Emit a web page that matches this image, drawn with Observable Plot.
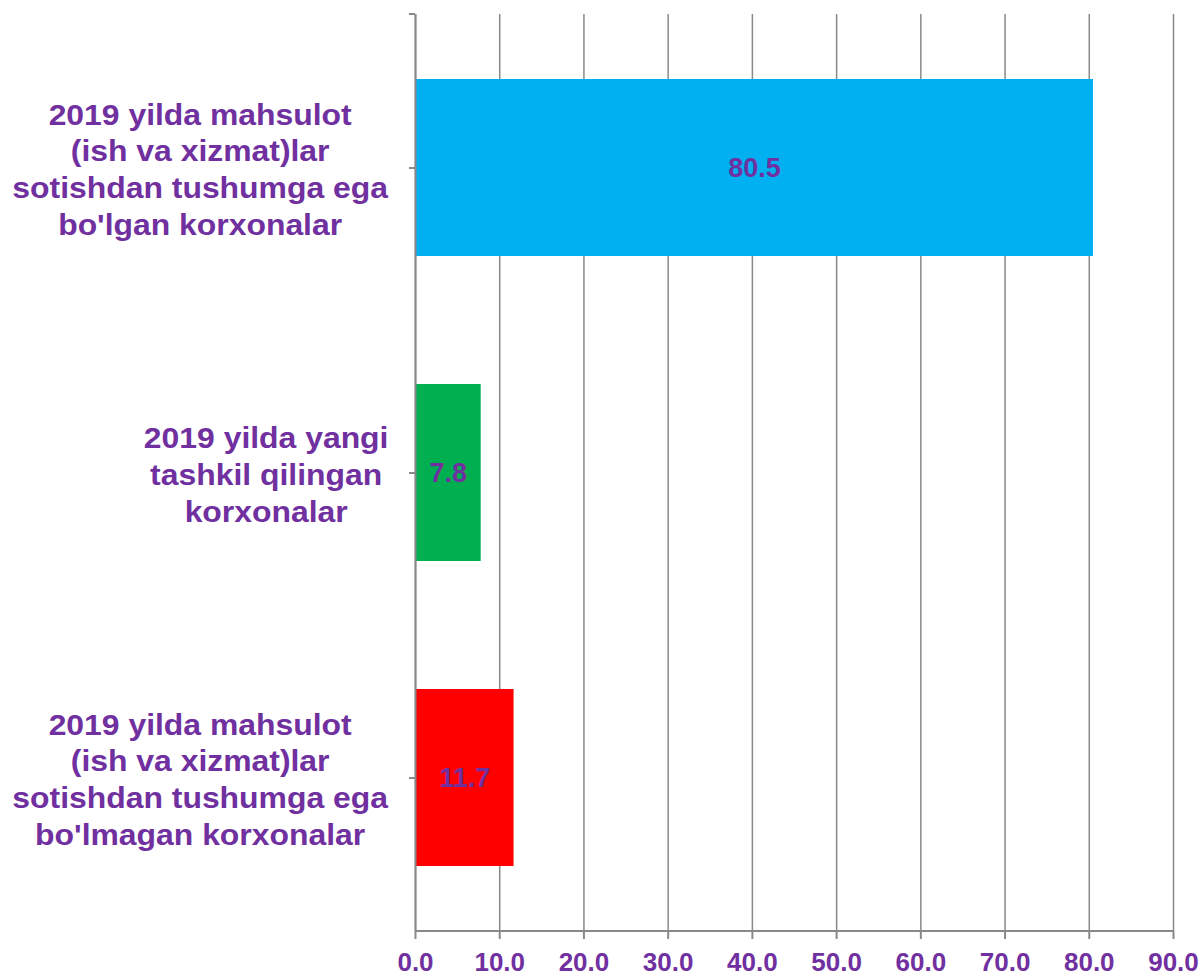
<!DOCTYPE html>
<html>
<head>
<meta charset="utf-8">
<script src="https://cdn.jsdelivr.net/npm/d3@7"></script>
<script src="https://cdn.jsdelivr.net/npm/@observablehq/plot@0.6"></script>
<style>
  html, body { margin: 0; padding: 0; background: #ffffff; }
</style>
</head>
<body>
<div id="chart"></div>
<script>
// ---- data ----
const categories = [
  "2019 yilda mahsulot\n(ish va xizmat)lar\nsotishdan tushumga ega\nbo'lgan korxonalar",
  "2019 yilda yangi\ntashkil qilingan\nkorxonalar",
  "2019 yilda mahsulot\n(ish va xizmat)lar\nsotishdan tushumga ega\nbo'lmagan korxonalar"
];
const values = [80.5, 7.8, 11.7];
const barColors = ["#00B0F0", "#00B050", "#FF0000"];
const xTicks = [0, 10, 20, 30, 40, 50, 60, 70, 80, 90];

const data = categories.map((c, i) => ({category: c, value: values[i], color: barColors[i]}));

const purple = "#7030A0";
const gray = "#898989";
const fmt = d3.format(".1f");

const chart = Plot.plot({
  width: 1203,
  height: 976,
  marginLeft: 415,
  marginRight: 30,
  marginTop: 14,
  marginBottom: 45,
  style: {fontFamily: "Arial, 'Liberation Sans', sans-serif", background: "#ffffff", overflow: "visible"},
  x: {domain: [0, 90], ticks: xTicks, tickFormat: fmt},
  y: {domain: categories, paddingInner: 0.42, paddingOuter: 0.21},
  marks: [
    Plot.gridX(xTicks, {stroke: gray, strokeOpacity: 1, strokeWidth: 1.5}),
    Plot.barX(data, {x: "value", y: "category", fill: "color", insetLeft: 1}),
    Plot.ruleX([0], {stroke: gray, strokeWidth: 2}),
    Plot.axisX({
      ticks: xTicks, tickFormat: fmt, tickSize: 8, tickPadding: 13,
      fontSize: 26, fontWeight: "bold", fill: purple, stroke: gray, strokeWidth: 2, label: null
    }),
    Plot.axisY({
      tickSize: 6, tickPadding: 21, fontSize: 29, fontWeight: "bold",
      fill: purple, stroke: gray, strokeWidth: 2, lineHeight: 1.27, label: null
    }),
    Plot.text(data, {
      x: d => d.value / 2, y: "category", text: d => fmt(d.value),
      fontSize: 27, fontWeight: "bold", fill: purple
    })
  ]
});

document.getElementById("chart").append(chart);

// center each category label's lines within its own block, block right-aligned
const svg = d3.select(chart);
svg.selectAll('g[aria-label="y-axis tick label"] text').each(function () {
  const w = this.getBBox().width;
  this.setAttribute("text-anchor", "middle");
  d3.select(this).selectAll("tspan").attr("x", -w / 2);
  const t = this.getAttribute("transform") || "";
  this.setAttribute("transform", t + " scale(1.1,1)");
});

// axis baseline along bottom and top tick, derived from the scales
const xr = chart.scale("x").range;
const yr = chart.scale("y").range;
svg.append("line")
  .attr("x1", xr[0]).attr("x2", xr[1])
  .attr("y1", yr[1]).attr("y2", yr[1])
  .attr("stroke", gray).attr("stroke-width", 2);
svg.append("line")
  .attr("x1", xr[0] - 6).attr("x2", xr[0])
  .attr("y1", yr[0]).attr("y2", yr[0])
  .attr("stroke", gray).attr("stroke-width", 2);
</script>
</body>
</html>
